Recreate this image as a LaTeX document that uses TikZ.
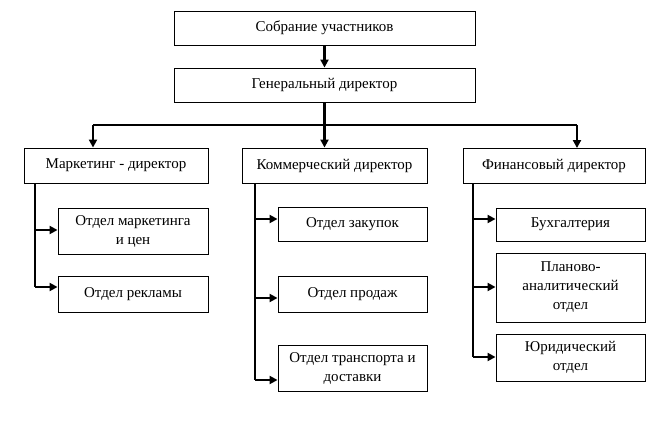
\documentclass[tikz,border=0pt]{standalone}
\usepackage{fontspec}
\setmainfont{Liberation Serif}
\usetikzlibrary{arrows.meta}

\begin{document}
\begin{tikzpicture}[x=1pt,y=-1pt,
	box/.style={draw,line width=0.9pt,inner sep=1pt,align=center,font=\fontsize{15}{19}\selectfont},
	bus/.style={line width=1.1pt},
	arr/.style={line width=2.2pt,-{Triangle[length=8pt,width=8pt]}}]
		\useasboundingbox (0,0) rectangle (648,428);
		%
		\node[box,minimum width=301,minimum height=34] (S) at (324.5,28) {Собрание участников};
		\node[box,minimum width=301,minimum height=34] (G) at (324.5,85) {Генеральный директор};
		%
		\node[box,minimum width=184,minimum height=35] (M) at (116,165.5) {Маркетинг - директор};
		\node[box,minimum width=185,minimum height=35] (K) at (334.5,165.5) {Коммерческий директор};
		\node[box,minimum width=182,minimum height=35] (F) at (554,166) {Финансовый директор};
		%
		\node[box,minimum width=150,minimum height=46] (M1) at (133,231) {Отдел маркетинга\\и цен};
		\node[box,minimum width=150,minimum height=36] (M2) at (133,294) {Отдел рекламы};
		\node[box,minimum width=149,minimum height=34] (K1) at (352.5,224) {Отдел закупок};
		\node[box,minimum width=149,minimum height=36] (K2) at (352.5,294) {Отдел продаж};
		\node[box,minimum width=149,minimum height=46] (K3) at (352.5,368) {Отдел транспорта и\\доставки};
		\node[box,minimum width=149,minimum height=33] (F1) at (570.5,224.5) {Бухгалтерия};
		\node[box,minimum width=149,minimum height=69] (F2) at (570.5,287.5) {Планово-\\аналитический\\отдел};
		\node[box,minimum width=149,minimum height=47] (F3) at (570.5,357.5) {Юридический\\отдел};
		%
		\coordinate (busL) at (93,125);
		\coordinate (busR) at (577,125);
		\coordinate (m1) at (35,230);
		\coordinate (m2) at (35,287);
		\coordinate (k1) at (255,219);
		\coordinate (k2) at (255,298);
		\coordinate (k3) at (255,380);
		\coordinate (f1) at (473,219);
		\coordinate (f2) at (473,287);
		\coordinate (f3) at (473,357);
		%
		\draw[arr] (S) -- (G);
		\draw[bus] (busL) -- (busR);
		\draw[arr] (G.south) -- (G.south |- K.north);
		\draw[arr] (busL) -- (busL |- M.north);
		\draw[arr] (busR) -- (busR |- F.north);
		%
		\draw[bus] (m1 |- M.south) -- (m2);
		\draw[bus] (k1 |- K.south) -- (k3);
		\draw[bus] (f1 |- F.south) -- (f3);
		%
		\path[arr]
		(m1) edge (m1 -| M1.west)
		(m2) edge (m2 -| M2.west)
		(k1) edge (k1 -| K1.west)
		(k2) edge (k2 -| K2.west)
		(k3) edge (k3 -| K3.west)
		(f1) edge (f1 -| F1.west)
		(f2) edge (f2 -| F2.west)
		(f3) edge (f3 -| F3.west);
\end{tikzpicture}
\end{document}
